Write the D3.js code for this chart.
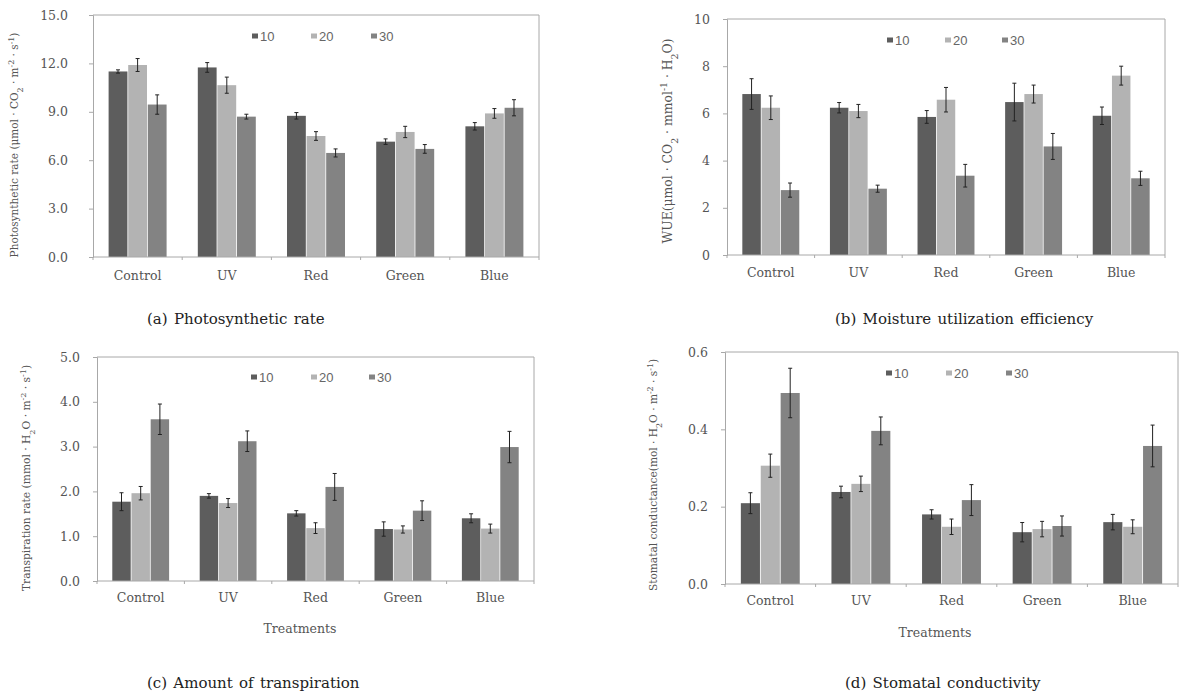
<!DOCTYPE html>
<html>
<head>
<meta charset="utf-8">
<script src="https://cdn.jsdelivr.net/npm/d3@7"></script>
<style>
  body {margin: 0; background: #fff;}
  svg {display: block;}
  .tick text, .cat {font-family: 'DejaVu Serif', serif; fill: #555;}
  .caption {font-family: 'DejaVu Serif', serif; fill: #222;}
  .ytitle {font-family: 'DejaVu Serif', serif; fill: #555;}
  .legend text {font-family: 'Liberation Sans', Arial, sans-serif; fill: #666;}
</style>
</head>
<body>
<script>
const categories = ['Control', 'UV', 'Red', 'Green', 'Blue']
const series = ['10', '20', '30']
const colors = ['#5d5d5d', '#b3b3b3', '#838383']

// (a) photosynthetic rate
const photo10 = [11.5, 11.75, 8.75, 7.15, 8.1]
const photo20 = [11.9, 10.65, 7.5, 7.75, 8.9]
const photo30 = [9.45, 8.7, 6.45, 6.7, 9.25]
const photoErr10 = [0.1, 0.3, 0.2, 0.17, 0.23]
const photoErr20 = [0.4, 0.5, 0.27, 0.35, 0.3]
const photoErr30 = [0.6, 0.15, 0.25, 0.27, 0.5]
const photoTicks = [0, 3, 6, 9, 12, 15]

// (b) WUE
const wue10 = [6.82, 6.24, 5.85, 6.48, 5.9]
const wue20 = [6.24, 6.1, 6.58, 6.82, 7.6]
const wue30 = [2.75, 2.81, 3.36, 4.6, 3.25]
const wueErr10 = [0.65, 0.22, 0.27, 0.8, 0.37]
const wueErr20 = [0.5, 0.28, 0.52, 0.38, 0.4]
const wueErr30 = [0.3, 0.15, 0.48, 0.55, 0.3]
const wueTicks = [0, 2, 4, 6, 8, 10]

// (c) transpiration
const trans10 = [1.77, 1.9, 1.51, 1.16, 1.4]
const trans20 = [1.96, 1.74, 1.18, 1.15, 1.17]
const trans30 = [3.61, 3.12, 2.1, 1.57, 2.99]
const transErr10 = [0.2, 0.05, 0.06, 0.16, 0.1]
const transErr20 = [0.15, 0.1, 0.12, 0.08, 0.1]
const transErr30 = [0.34, 0.23, 0.3, 0.22, 0.35]
const transTicks = [0, 1, 2, 3, 4, 5]

// (d) stomatal conductance
const stom10 = [0.209, 0.238, 0.18, 0.134, 0.16]
const stom20 = [0.306, 0.259, 0.148, 0.142, 0.148]
const stom30 = [0.494, 0.396, 0.217, 0.15, 0.357]
const stomErr10 = [0.027, 0.015, 0.012, 0.025, 0.02]
const stomErr20 = [0.03, 0.02, 0.02, 0.02, 0.018]
const stomErr30 = [0.064, 0.036, 0.04, 0.026, 0.054]
const stomTicks = [0, 0.2, 0.4, 0.6]

const svg = d3.select('body').append('svg')
  .attr('width', 1184).attr('height', 699)

function panel(p) {
  const g = svg.append('g')
  const x0 = d3.scaleBand().domain(categories).range([p.left, p.right])
    .paddingInner(0.35).paddingOuter(0.175)
  const x1 = d3.scaleBand().domain(series).range([0, x0.bandwidth()]).paddingInner(0.04)
  const y = d3.scaleLinear().domain([0, p.ticks[p.ticks.length - 1]]).range([p.bottom, p.top])

  // frame
  g.append('path')
    .attr('d', `M${p.left},${p.top}H${p.right}V${p.bottom}`)
    .attr('fill', 'none').attr('stroke', '#a8a8a8')

  const rows = categories.map((c, i) => ({
    cat: c,
    vals: series.map((s, j) => ({s, v: p.means[j][i], e: p.errs[j][i]}))
  }))

  const grp = g.selectAll('.grp').data(rows).enter().append('g')
    .attr('transform', d => `translate(${x0(d.cat)},0)`)
  grp.selectAll('rect').data(d => d.vals).enter().append('rect')
    .attr('x', d => x1(d.s))
    .attr('width', x1.bandwidth())
    .attr('y', d => y(d.v))
    .attr('height', d => p.bottom - y(d.v))
    .attr('fill', (d, j) => colors[j])
  // error bars
  const cx = d => x1(d.s) + x1.bandwidth() / 2
  const eb = grp.selectAll('.err').data(d => d.vals).enter().append('g')
    .attr('stroke', '#222').attr('stroke-width', 1)
  eb.append('line')
    .attr('x1', cx).attr('x2', cx)
    .attr('y1', d => y(d.v + d.e)).attr('y2', d => y(d.v - d.e))
  eb.append('line')
    .attr('x1', d => cx(d) - 2).attr('x2', d => cx(d) + 2)
    .attr('y1', d => y(d.v + d.e)).attr('y2', d => y(d.v + d.e))
  eb.append('line')
    .attr('x1', d => cx(d) - 2).attr('x2', d => cx(d) + 2)
    .attr('y1', d => y(d.v - d.e)).attr('y2', d => y(d.v - d.e))

  // y axis
  const ya = g.append('g').attr('transform', `translate(${p.left},0)`)
    .call(d3.axisLeft(y).tickValues(p.ticks).tickFormat(d3.format(p.fmt)).tickSize(4).tickPadding(p.pad))
  ya.select('.domain').attr('stroke', '#a8a8a8')
  ya.selectAll('.tick line').attr('stroke', '#a8a8a8')
  ya.selectAll('.tick text').attr('font-size', 12.5)

  // x axis: ticks on category boundaries
  const step = x0.step()
  const xa = g.append('g').attr('transform', `translate(0,${p.bottom})`)
  xa.append('line').attr('x1', p.left).attr('x2', p.right).attr('stroke', '#a8a8a8')
  xa.selectAll('.bt').data(d3.range(categories.length + 1)).enter().append('line')
    .attr('x1', k => p.left + k * step).attr('x2', k => p.left + k * step)
    .attr('y1', 0).attr('y2', 3).attr('stroke', '#a8a8a8')
  xa.selectAll('.cat').data(categories).enter().append('text')
    .attr('class', 'cat')
    .attr('x', d => x0(d) + x0.bandwidth() / 2)
    .attr('y', p.catY - p.bottom)
    .attr('text-anchor', 'middle').attr('font-size', 12.5)
    .text(d => d)

  // legend
  const lg = g.append('g').attr('class', 'legend')
  series.forEach((s, j) => {
    lg.append('rect').attr('x', p.legX[j]).attr('y', p.legY - 2.5)
      .attr('width', 6).attr('height', 5).attr('fill', colors[j])
    lg.append('text').attr('x', p.legX[j] + 8).attr('y', p.legY + 4.5)
      .attr('font-size', 13).text(s)
  })

  // y title
  const t = g.append('text').attr('class', 'ytitle')
    .attr('transform', `translate(${p.titleX},${p.titleY}) rotate(-90)`)
    .attr('text-anchor', 'middle').attr('font-size', p.titleSize)
  p.title.forEach(part => {
    const ts = t.append('tspan').text(part[0])
    if (part[1] === 'sup') ts.attr('baseline-shift', 'super').attr('font-size', p.titleSize * 0.75)
    if (part[1] === 'sub') ts.attr('baseline-shift', 'sub').attr('font-size', p.titleSize * 0.75)
  })

  if (p.xlabel) {
    g.append('text').attr('class', 'cat').attr('x', p.xlabel[0]).attr('y', p.xlabel[1])
      .attr('text-anchor', 'middle').attr('font-size', 12.5).text('Treatments')
  }

  svg.append('text').attr('class', 'caption')
    .attr('x', p.cap[0]).attr('y', p.cap[1])
    .attr('font-size', 15).attr('word-spacing', 1.5).text(p.caption)
}

panel({
  left: 93, right: 539, top: 15, bottom: 257, ticks: photoTicks, fmt: '.1f', pad: 21,
  means: [photo10, photo20, photo30], errs: [photoErr10, photoErr20, photoErr30],
  catY: 280, legX: [252, 311, 371], legY: 36,
  titleX: 18, titleY: 145, titleSize: 10.5,
  title: [['Photosynthetic rate (μmol · CO'], ['2', 'sub'], [' · m'], ['-2', 'sup'], [' · s'], ['-1', 'sup'], [')']],
  caption: '(a) Photosynthetic rate', cap: [147, 324]
})
panel({
  left: 727, right: 1165, top: 19, bottom: 255, ticks: wueTicks, fmt: 'd', pad: 13,
  means: [wue10, wue20, wue30], errs: [wueErr10, wueErr20, wueErr30],
  catY: 277, legX: [887, 945, 1002], legY: 40,
  titleX: 672, titleY: 141, titleSize: 12.4,
  title: [['WUE(μmol · CO'], ['2', 'sub'], [' · mmol'], ['-1', 'sup'], [' · H'], ['2', 'sub'], ['O)']],
  caption: '(b) Moisture utilization efficiency', cap: [835, 324]
})
panel({
  left: 97, right: 534, top: 357, bottom: 581, ticks: transTicks, fmt: '.1f', pad: 13,
  means: [trans10, trans20, trans30], errs: [transErr10, transErr20, transErr30],
  catY: 602, legX: [251, 311, 369], legY: 377,
  titleX: 30, titleY: 478, titleSize: 10.7,
  title: [['Transpiration rate (mmol · H'], ['2', 'sub'], ['O · m'], ['-2', 'sup'], [' · s'], ['-1', 'sup'], [')']],
  xlabel: [300, 633],
  caption: '(c) Amount of transpiration', cap: [147, 688]
})
panel({
  left: 725, right: 1178, top: 352, bottom: 584, ticks: stomTicks, fmt: '.1f', pad: 13,
  means: [stom10, stom20, stom30], errs: [stomErr10, stomErr20, stomErr30],
  catY: 605, legX: [886, 946, 1006], legY: 373,
  titleX: 657, titleY: 475, titleSize: 10.6,
  title: [['Stomatal conductance(mol · H'], ['2', 'sub'], ['O · m'], ['-2', 'sup'], [' · s'], ['-1', 'sup'], [')']],
  xlabel: [935, 637],
  caption: '(d) Stomatal conductivity', cap: [845, 688]
})
</script>
</body>
</html>
